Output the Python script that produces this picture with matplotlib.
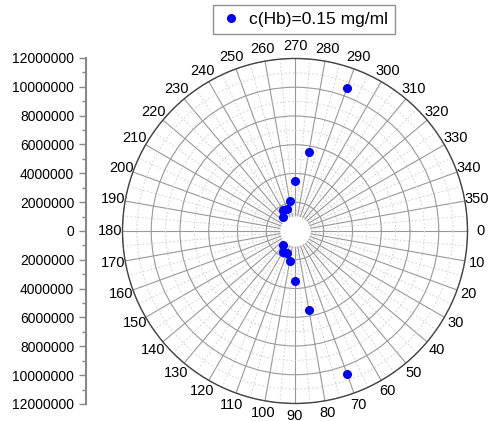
import matplotlib.pyplot as plt
import numpy as np

plt.rcParams['font.family'] = ['Liberation Sans', 'DejaVu Sans']

# data
theta_deg = [70, 80, 90, 100, 110, 120, 130, 230, 240, 250, 260, 270, 280, 290]
r_vals = [10.6e6, 5.6e6, 3.5e6, 2.15e6, 1.64e6, 1.67e6, 1.27e6,
          1.27e6, 1.67e6, 1.62e6, 2.12e6, 3.47e6, 5.57e6, 10.6e6]
series_label = "c(Hb)=0.15 mg/ml"
r_max = 12e6

fig = plt.figure(figsize=(5.02, 4.21), dpi=100)
ax = fig.add_axes([0.2440, 0.0416, 0.6873, 0.8195], projection='polar')
ax.set_theta_zero_location('E')
ax.set_theta_direction(-1)
ax.set_ylim(0, r_max)

# radial grid
ax.set_yticks(np.arange(2e6, r_max + 1, 2e6))
ax.set_yticks(np.arange(1e6, r_max, 2e6), minor=True)
ax.set_yticklabels([])
# angular grid
ax.set_xticks(np.deg2rad(np.arange(0, 360, 10)))
ax.set_xticks(np.deg2rad(np.arange(5, 360, 10)), minor=True)
ax.set_xticklabels([str(a) for a in range(0, 360, 10)], fontsize=10.5)
ax.tick_params(axis='x', which='major', direction='in', length=4, pad=2, color='#333333')
ax.tick_params(axis='x', which='minor', direction='in', length=2.5, color='#333333')
ax.tick_params(axis='y', which='both', length=0)
ax.grid(which='major', color='#999999', lw=0.8, ls='-')
ax.grid(which='minor', color='#d5d5d5', lw=0.7, ls=(0, (2, 2)))
ax.spines['polar'].set_color('#444444')
ax.spines['polar'].set_linewidth(1.0)

# blank hole in the middle
th = np.linspace(0, 2 * np.pi, 200)
ax.fill_between(th, 0, 1e6, color='white', zorder=2)

pts, = ax.plot(np.deg2rad(theta_deg), r_vals, 'o', color='#0000ff',
               markersize=5.5, ls='none', zorder=3, label=series_label)

# separate radius scale on the left
ax2 = fig.add_axes([0.1713, 0.0404, 0.0001, 0.822])
ax2.set_ylim(-r_max, r_max)
for s in ['top', 'right', 'bottom']:
    ax2.spines[s].set_visible(False)
ax2.spines['left'].set_color('#888888')
ax2.spines['left'].set_linewidth(1.5)
ax2.set_xticks([])
yt = np.arange(-r_max, r_max + 1, 2e6)
ax2.set_yticks(yt)
ax2.set_yticklabels([str(int(abs(v))) for v in yt[::-1]], fontsize=10)
ax2.set_yticks(np.arange(-r_max + 1e6, r_max, 2e6), minor=True)
ax2.tick_params(axis='y', which='major', length=5, color='#888888', width=1)
ax2.tick_params(axis='y', which='minor', length=3, color='#888888', width=1)
ax2.set_facecolor('none')

fig.legend(handles=[pts], loc='upper left', bbox_to_anchor=(0.424, 0.989),
           fontsize=12.5, frameon=True, fancybox=False, edgecolor='#777777',
           borderpad=0.4, handletextpad=0.4, handlelength=1.3, borderaxespad=0)

fig.savefig('out.png', dpi=100)
